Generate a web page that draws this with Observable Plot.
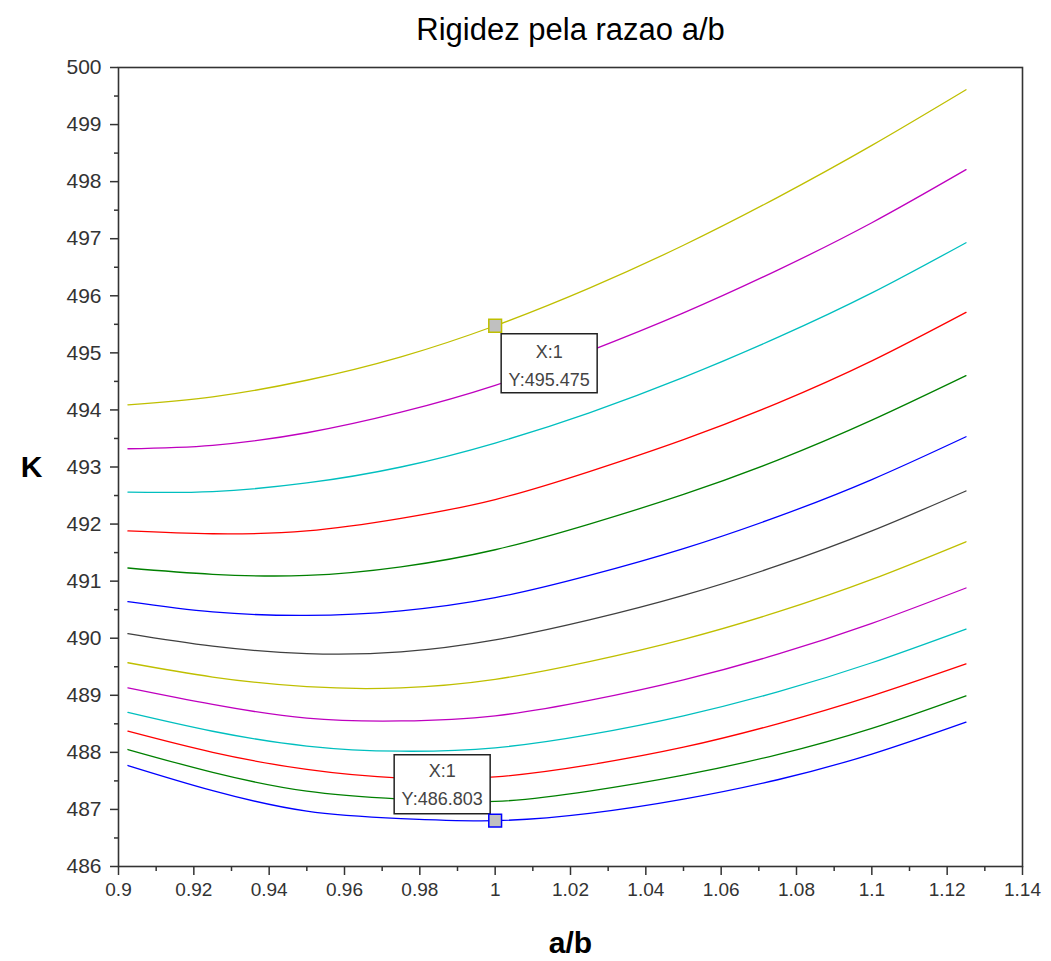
<!DOCTYPE html>
<html>
<head>
<meta charset="utf-8">
<script src="https://cdn.jsdelivr.net/npm/d3@7"></script>
<script src="https://cdn.jsdelivr.net/npm/@observablehq/plot@0.6"></script>
<style>
  body { margin: 0; background: #fff; }
  #chart svg { display: block; }
</style>
</head>
<body>
<div id="chart"></div>
<script>
// a/b sample positions
const ab = [0.9025, 0.925, 0.95, 0.975, 1.0, 1.025, 1.05, 1.075, 1.1, 1.125];

// K series (bottom to top, in plotting order)
const k01 = [487.77, 487.33, 486.97, 486.84, 486.803, 486.93, 487.18, 487.52, 487.97, 488.53];
const k02 = [488.05, 487.65, 487.32, 487.18, 487.14, 487.32, 487.60, 487.96, 488.42, 488.99];
const k03 = [488.37, 488.00, 487.70, 487.55, 487.57, 487.78, 488.09, 488.50, 488.99, 489.55];
const k04 = [488.70, 488.37, 488.11, 488.02, 488.08, 488.31, 488.64, 489.06, 489.57, 490.16];
const k05 = [489.13, 488.84, 488.60, 488.55, 488.64, 488.91, 489.27, 489.72, 490.26, 490.88];
const k06 = [489.57, 489.32, 489.15, 489.13, 489.28, 489.59, 489.98, 490.46, 491.03, 491.69];
const k07 = [490.08, 489.86, 489.73, 489.76, 489.97, 490.32, 490.75, 491.27, 491.88, 492.58];
const k08 = [490.64, 490.46, 490.40, 490.48, 490.71, 491.10, 491.57, 492.13, 492.78, 493.53];
const k09 = [491.23, 491.12, 491.10, 491.25, 491.55, 492.00, 492.52, 493.12, 493.82, 494.60];
const k10 = [491.88, 491.83, 491.88, 492.10, 492.43, 492.92, 493.48, 494.12, 494.86, 495.71];
const k11 = [492.56, 492.57, 492.72, 493.00, 493.42, 493.95, 494.57, 495.27, 496.05, 496.93];
const k12 = [493.32, 493.38, 493.60, 493.96, 494.43, 495.03, 495.70, 496.45, 497.28, 498.21];
const k13 = [494.09, 494.23, 494.52, 494.93, 495.475, 496.135, 496.885, 497.725, 498.635, 499.61];

const seriesK = [k01, k02, k03, k04, k05, k06, k07, k08, k09, k10, k11, k12, k13];
const seriesColors = ["#0000ff", "#008000", "#ff0000", "#00bfbf", "#bf00bf", "#bfbf00", "#404040",
                      "#0000ff", "#008000", "#ff0000", "#00bfbf", "#bf00bf", "#bfbf00"];

// Axis ticks
const xTicks = [0.9, 0.92, 0.94, 0.96, 0.98, 1, 1.02, 1.04, 1.06, 1.08, 1.1, 1.12, 1.14];
const xMinorTicks = [0.91, 0.93, 0.95, 0.97, 0.99, 1.01, 1.03, 1.05, 1.07, 1.09, 1.11, 1.13];
const yTicks = [486, 487, 488, 489, 490, 491, 492, 493, 494, 495, 496, 497, 498, 499, 500];
const yMinorTicks = [486.5, 487.5, 488.5, 489.5, 490.5, 491.5, 492.5, 493.5, 494.5, 495.5, 496.5, 497.5, 498.5, 499.5];

// Data tips
const tipX = [1, 1];
const tipY = [495.475, 486.803];
const tipTextX = ["X:1", "X:1"];
const tipTextY = ["Y:495.475", "Y:486.803"];
const tipColors = ["#bfbf00", "#0000ff"];

const titleText = "Rigidez pela razao a/b";
const xLabel = "a/b";
const yLabel = "K";

const rows = seriesK.flatMap((ks, s) => ks.map((k, i) => ({ab: ab[i], k, s})));

function boxSymbol(x0, y0, w, h) {
  return {
    draw(ctx) {
      ctx.moveTo(x0, y0);
      ctx.lineTo(x0 + w, y0);
      ctx.lineTo(x0 + w, y0 + h);
      ctx.lineTo(x0, y0 + h);
      ctx.closePath();
    }
  };
}

const font = "'Liberation Sans', Arial, Helvetica, sans-serif";
const tipData = [0, 1];

const chart = Plot.plot({
  width: 1051,
  height: 961,
  marginTop: 67,
  marginBottom: 95,
  marginLeft: 118,
  marginRight: 29,
  style: {fontFamily: font, background: "#fff", color: "#333"},
  x: {domain: [0.9, 1.14], label: null},
  y: {domain: [486, 500], label: null},
  marks: [
    Plot.line(rows, {
      x: "ab", y: "k", z: "s",
      stroke: d => seriesColors[d.s],
      strokeWidth: 1.3,
      curve: "natural"
    }),
    Plot.frame({stroke: "#333", strokeWidth: 1.6}),
    Plot.axisX(xTicks, {tickSize: 9, tickPadding: 7, tickFormat: d => String(d), fontSize: 19, stroke: "#333", strokeWidth: 1.5, fill: "#333", label: null}),
    Plot.axisX(xMinorTicks, {tickSize: 5, tickFormat: () => "", stroke: "#333", strokeWidth: 1.5, label: null}),
    Plot.axisY(yTicks, {tickSize: 8, tickPadding: 9, tickFormat: d => String(d), fontSize: 21, stroke: "#333", strokeWidth: 1.5, fill: "#333", label: null}),
    Plot.axisY(yMinorTicks, {tickSize: 4, tickFormat: () => "", stroke: "#333", strokeWidth: 1.5, label: null}),
    // data tip boxes
    Plot.dot([0], {x: i => tipX[i], y: i => tipY[i], symbol: boxSymbol(6, 8, 96, 59), fill: "#fff", stroke: "#222", strokeWidth: 1.5}),
    Plot.dot([1], {x: i => tipX[i], y: i => tipY[i], symbol: boxSymbol(-101, -66, 96, 59), fill: "#fff", stroke: "#222", strokeWidth: 1.5}),
    // markers
    Plot.dot(tipData, {x: i => tipX[i], y: i => tipY[i], symbol: "square", r: 7.2, fill: "#c0c0c0", stroke: i => tipColors[i], strokeWidth: 1.5}),
    // tip texts
    Plot.text([0], {x: i => tipX[i], y: i => tipY[i], text: i => tipTextX[i], dx: 54, dy: 26, fontSize: 18, fill: "#444"}),
    Plot.text([0], {x: i => tipX[i], y: i => tipY[i], text: i => tipTextY[i], dx: 54, dy: 54, fontSize: 18, fill: "#444"}),
    Plot.text([1], {x: i => tipX[i], y: i => tipY[i], text: i => tipTextX[i], dx: -53, dy: -49, fontSize: 18, fill: "#444"}),
    Plot.text([1], {x: i => tipX[i], y: i => tipY[i], text: i => tipTextY[i], dx: -53, dy: -21, fontSize: 18, fill: "#444"}),
    // title and axis labels
    Plot.text([titleText], {frameAnchor: "top", lineAnchor: "middle", dy: -37, fontSize: 31, fill: "#000", text: d => d}),
    Plot.text([yLabel], {frameAnchor: "left", textAnchor: "middle", dx: -87, fontSize: 30, fontWeight: "bold", fill: "#000", text: d => d}),
    Plot.text([xLabel], {frameAnchor: "bottom", lineAnchor: "middle", dy: 77, fontSize: 30, fontWeight: "bold", fill: "#000", text: d => d})
  ]
});

document.getElementById("chart").appendChild(chart);
</script>
</body>
</html>
